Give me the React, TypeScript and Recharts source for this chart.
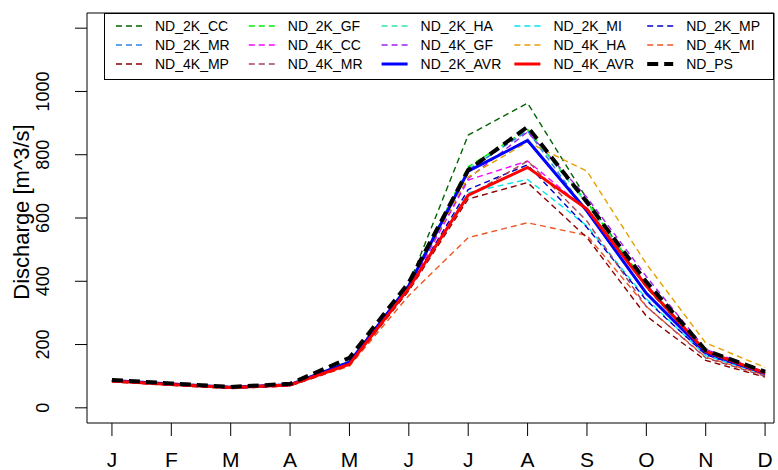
import React from 'react';
import { LineChart, Line, XAxis, YAxis, ReferenceArea, Legend } from 'recharts';

const months = ['J', 'F', 'M', 'A', 'M', 'J', 'J', 'A', 'S', 'O', 'N', 'D'];
const yTicks = [0, 200, 400, 600, 800, 1000, 1200];

const ND_2K_CC = [86, 75, 65, 73, 145, 390, 862, 963, 660, 380, 175, 108];
const ND_2K_GF = [87, 76, 66, 74, 148, 390, 762, 880, 650, 390, 180, 112];
const ND_2K_HA = [86, 75, 65, 73, 145, 388, 755, 875, 645, 385, 178, 110];
const ND_2K_MI = [85, 74, 64, 72, 140, 378, 680, 722, 575, 345, 165, 105];
const ND_2K_MP = [85, 74, 64, 72, 140, 380, 690, 768, 570, 340, 168, 106];
const ND_2K_MR = [86, 75, 65, 73, 146, 388, 752, 875, 620, 360, 175, 110];
const ND_4K_CC = [86, 75, 65, 73, 140, 380, 720, 780, 625, 390, 175, 108];
const ND_4K_GF = [87, 76, 66, 74, 142, 385, 725, 872, 665, 415, 185, 113];
const ND_4K_HA = [88, 78, 67, 75, 145, 385, 730, 840, 748, 455, 205, 128];
const ND_4K_MI = [83, 72, 62, 70, 132, 355, 538, 585, 545, 320, 160, 103];
const ND_4K_MP = [82, 71, 61, 69, 135, 370, 660, 712, 538, 290, 150, 97];
const ND_4K_MR = [84, 73, 63, 71, 138, 375, 670, 780, 590, 320, 158, 100];
const ND_2K_AVR = [86, 75, 65, 73, 144, 386, 748, 845, 622, 362, 174, 108];
const ND_4K_AVR = [85, 74, 64, 72, 138, 378, 672, 760, 628, 385, 178, 110];
const ND_PS = [88, 77, 66, 76, 158, 396, 752, 888, 650, 398, 182, 114];

type S = { key: string; values: number[]; color: string; width: number; dash?: string };

const series: S[] = [
  { key: 'ND_2K_CC', values: ND_2K_CC, color: '#006400', width: 1.4, dash: '6 4' },
  { key: 'ND_2K_GF', values: ND_2K_GF, color: '#00EE00', width: 1.4, dash: '6 4' },
  { key: 'ND_2K_HA', values: ND_2K_HA, color: '#2EE8A8', width: 1.4, dash: '6 4' },
  { key: 'ND_2K_MI', values: ND_2K_MI, color: '#00E5EE', width: 1.4, dash: '6 4' },
  { key: 'ND_2K_MP', values: ND_2K_MP, color: '#0000CD', width: 1.4, dash: '6 4' },
  { key: 'ND_2K_MR', values: ND_2K_MR, color: '#2E86DE', width: 1.4, dash: '6 4' },
  { key: 'ND_4K_CC', values: ND_4K_CC, color: '#FF00FF', width: 1.4, dash: '6 4' },
  { key: 'ND_4K_GF', values: ND_4K_GF, color: '#A020F0', width: 1.4, dash: '6 4' },
  { key: 'ND_4K_HA', values: ND_4K_HA, color: '#E69F00', width: 1.4, dash: '6 4' },
  { key: 'ND_4K_MI', values: ND_4K_MI, color: '#EE5522', width: 1.4, dash: '6 4' },
  { key: 'ND_4K_MP', values: ND_4K_MP, color: '#8B0000', width: 1.4, dash: '6 4' },
  { key: 'ND_4K_MR', values: ND_4K_MR, color: '#A8435A', width: 1.4, dash: '6 4' },
  { key: 'ND_2K_AVR', values: ND_2K_AVR, color: '#0000FF', width: 3 },
  { key: 'ND_4K_AVR', values: ND_4K_AVR, color: '#FF0000', width: 3 },
  { key: 'ND_PS', values: ND_PS, color: '#000000', width: 4, dash: '11 6' },
];

const data = months.map((m, i) => {
  const row: Record<string, number | string> = { x: i + 1, month: m };
  series.forEach((s) => {
    row[s.key] = s.values[i];
  });
  return row;
});

const FONT = '"Liberation Sans", Arial, Helvetica, sans-serif';

const YTick = (props: any) => {
  const { y, payload } = props;
  if (payload.value === 1200) return <g />;
  return (
    <text
      x={43}
      y={y}
      transform={`rotate(-90, 43, ${y})`}
      textAnchor="middle"
      dominantBaseline="central"
      fontFamily={FONT}
      fontSize={18}
      fill="#000"
    >
      {payload.value}
    </text>
  );
};

const XTick = (props: any) => {
  const { x, payload } = props;
  return (
    <text x={x} y={459} textAnchor="middle" dominantBaseline="central" fontFamily={FONT} fontSize={21} fill="#000">
      {months[payload.value - 1]}
    </text>
  );
};

const LegendBox = () => {
  const colW = 132.8;
  return (
    <div
      style={{
        position: 'relative',
        width: 670,
        height: 67,
        border: '1px solid #000',
        boxSizing: 'border-box',
        background: '#fff',
        fontFamily: FONT,
        fontSize: 14,
      }}
    >
      <svg width={670} height={67} style={{ position: 'absolute', left: -1, top: -1 }}>
        {series.map((s, i) => {
          const col = i % 5;
          const row = Math.floor(i / 5);
          const cy = 13 + row * 19;
          const x0 = 12 + col * colW;
          return (
            <g key={s.key}>
              <line
                x1={x0}
                x2={x0 + 26}
                y1={cy}
                y2={cy}
                stroke={s.color}
                strokeWidth={s.width}
                strokeDasharray={s.dash}
              />
              <text x={51 + col * colW} y={cy} dominantBaseline="central" fontFamily={FONT} fontSize={14} fill="#000">
                {s.key}
              </text>
            </g>
          );
        })}
      </svg>
    </div>
  );
};

export default function App() {
  return (
    <div style={{ position: 'absolute', left: 0, top: 0, background: '#fff' }}>
      <LineChart width={778} height={470} data={data} margin={{ top: 13, right: 4, bottom: 0, left: 0 }}>
        <XAxis
          dataKey="x"
          type="number"
          domain={[0.58, 12.15]}
          ticks={[1, 2, 3, 4, 5, 6, 7, 8, 9, 10, 11, 12]}
          allowDataOverflow
          height={47}
          tickSize={13}
          tickLine={{ stroke: '#000' }}
          axisLine={false}
          tick={<XTick />}
          interval={0}
        />
        <YAxis
          type="number"
          domain={[-48, 1248]}
          ticks={yTicks}
          allowDataOverflow
          width={87}
          tickSize={12}
          tickLine={{ stroke: '#000' }}
          axisLine={false}
          tick={<YTick />}
          interval={0}
          label={() => {
            const cy = 212;
            return (
              <text
                x={21}
                y={cy}
                transform={`rotate(-90, 21, ${cy})`}
                textAnchor="middle"
                dominantBaseline="central"
                fontFamily={FONT}
                fontSize={22}
                fill="#000"
              >
                Discharge [m^3/s]
              </text>
            );
          }}
        />
        <ReferenceArea x1={0.58} x2={12.15} y1={-48} y2={1248} fill="none" stroke="#000" strokeWidth={1} ifOverflow="visible" />
        {series.map((s) => (
          <Line
            key={s.key}
            dataKey={s.key}
            type="linear"
            stroke={s.color}
            strokeWidth={s.width}
            strokeDasharray={s.dash}
            dot={false}
            activeDot={false}
            isAnimationActive={false}
          />
        ))}
        <Legend
          layout="horizontal"
          verticalAlign="middle"
          align="center"
          content={<LegendBox />}
          wrapperStyle={{ position: 'absolute', left: 104, top: 13, width: 670, height: 67 }}
        />
      </LineChart>
    </div>
  );
}
